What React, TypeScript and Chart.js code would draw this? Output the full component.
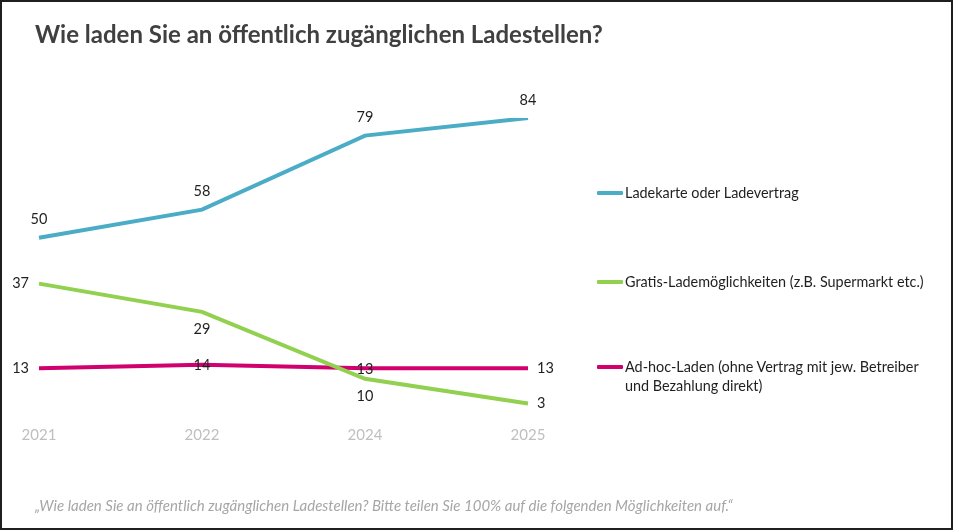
import { useEffect, useRef } from 'react';
import { Chart, registerables } from 'chart.js';

Chart.register(...registerables);

const years = ['2021', '2022', '2024', '2025'];

const seriesNames = [
  'Ladekarte oder Ladevertrag',
  'Gratis-Lademöglichkeiten (z.B. Supermarkt etc.)',
  'Ad-hoc-Laden (ohne Vertrag mit jew. Betreiber und Bezahlung direkt)',
];

const ladekarte = [50, 58, 79, 84];
const gratis = [37, 29, 10, 3];
const adhoc = [13, 14, 13, 13];

const colors = ['#4bacc6', '#92d050', '#d0006f'];

// where each value label sits relative to its point
const labelPlaces: string[][] = [
  ['top', 'top', 'top', 'top'],
  ['left', 'bottom', 'bottom', 'right'],
  ['left', 'center', 'center', 'right'],
];

const FONT = 'Lato, "Open Sans", sans-serif';

const valueLabels = {
  id: 'valueLabels',
  afterDatasetsDraw(chart: Chart) {
    const ctx = chart.ctx;
    ctx.save();
    ctx.font = `14.5px ${FONT}`;
    ctx.fillStyle = '#1f1f1f';
    ctx.textBaseline = 'middle';
    chart.data.datasets.forEach((ds, di) => {
      const meta = chart.getDatasetMeta(di);
      meta.data.forEach((pt, i) => {
        const v = ds.data[i] as number;
        const place = labelPlaces[di][i];
        let x = pt.x;
        let y = pt.y;
        ctx.textAlign = 'center';
        if (place === 'top') y -= 18;
        else if (place === 'bottom') y += 18;
        else if (place === 'center') y += 1;
        else if (place === 'left') {
          ctx.textAlign = 'right';
          x -= 10;
        } else if (place === 'right') {
          ctx.textAlign = 'left';
          x += 9;
        }
        ctx.fillText(String(v), x, y);
      });
    });
    ctx.restore();
  },
};

function LineChart() {
  const canvasRef = useRef<HTMLCanvasElement>(null);
  const chartRef = useRef<Chart | null>(null);

  useEffect(() => {
    if (!canvasRef.current) return;
    const ctx = canvasRef.current.getContext('2d');
    if (!ctx) return;
    if (chartRef.current) chartRef.current.destroy();

    const values = [ladekarte, gratis, adhoc];

    chartRef.current = new Chart(ctx, {
      type: 'line',
      data: {
        labels: years,
        datasets: values.map((d, i) => ({
          label: seriesNames[i],
          data: d,
          borderColor: colors[i],
          backgroundColor: colors[i],
          borderWidth: 4,
          pointRadius: 0,
          tension: 0,
          fill: false,
        })),
      },
      options: {
        animation: false,
        responsive: true,
        maintainAspectRatio: false,
        layout: {
          padding: { left: 39, right: 426, top: 118, bottom: 73 },
        },
        plugins: {
          legend: { display: false },
          tooltip: { enabled: false },
        },
        scales: {
          y: { display: false, min: 0, max: 84 },
          x: {
            grid: { display: false, drawTicks: false },
            border: { display: false },
            ticks: {
              color: '#bfbfbf',
              font: { family: FONT, size: 15 },
              padding: 12.5,
            },
          },
        },
      },
      plugins: [valueLabels],
    });

    return () => {
      if (chartRef.current) {
        chartRef.current.destroy();
        chartRef.current = null;
      }
    };
  }, []);

  return (
    <div style={{ position: 'absolute', left: 0, top: 0, width: 954, height: 530 }}>
      <canvas ref={canvasRef}></canvas>
    </div>
  );
}

export default function App() {
  const legendY = [193, 282, 367];
  return (
    <div
      style={{
        position: 'absolute',
        left: 0,
        top: 0,
        width: 954,
        height: 530,
        background: '#fff',
        fontFamily: FONT,
        overflow: 'hidden',
      }}
    >
      <LineChart />
      <div
        style={{
          position: 'absolute',
          left: 0,
          top: 0,
          width: 953,
          height: 530,
          boxSizing: 'border-box',
          border: '2px solid #1f1f1f',
          pointerEvents: 'none',
        }}
      />
      <div
        style={{
          position: 'absolute',
          left: 35,
          top: 19,
          fontSize: 24,
          fontWeight: 700,
          color: '#404040',
          whiteSpace: 'nowrap',
        }}
      >
        Wie laden Sie an öffentlich zugänglichen Ladestellen?
      </div>
      {seriesNames.map((name, i) => (
        <div
          key={name}
          style={{
            position: 'absolute',
            left: 597,
            top: legendY[i] - 10,
            display: 'flex',
            alignItems: 'flex-start',
          }}
        >
          <div
            style={{
              width: 26,
              height: 4,
              background: colors[i],
              marginTop: 8,
              borderRadius: 1,
            }}
          />
          <div
            style={{
              marginLeft: 2,
              width: 305,
              fontSize: 14.4,
              lineHeight: '19px',
              color: '#1f1f1f',
            }}
          >
            {name}
          </div>
        </div>
      ))}
      <div
        style={{
          position: 'absolute',
          left: 35,
          top: 496,
          fontSize: 15,
          fontStyle: 'italic',
          color: '#a6a6a6',
          whiteSpace: 'nowrap',
        }}
      >
        „Wie laden Sie an öffentlich zugänglichen Ladestellen? Bitte teilen Sie 100% auf die folgenden Möglichkeiten auf.“
      </div>
    </div>
  );
}
